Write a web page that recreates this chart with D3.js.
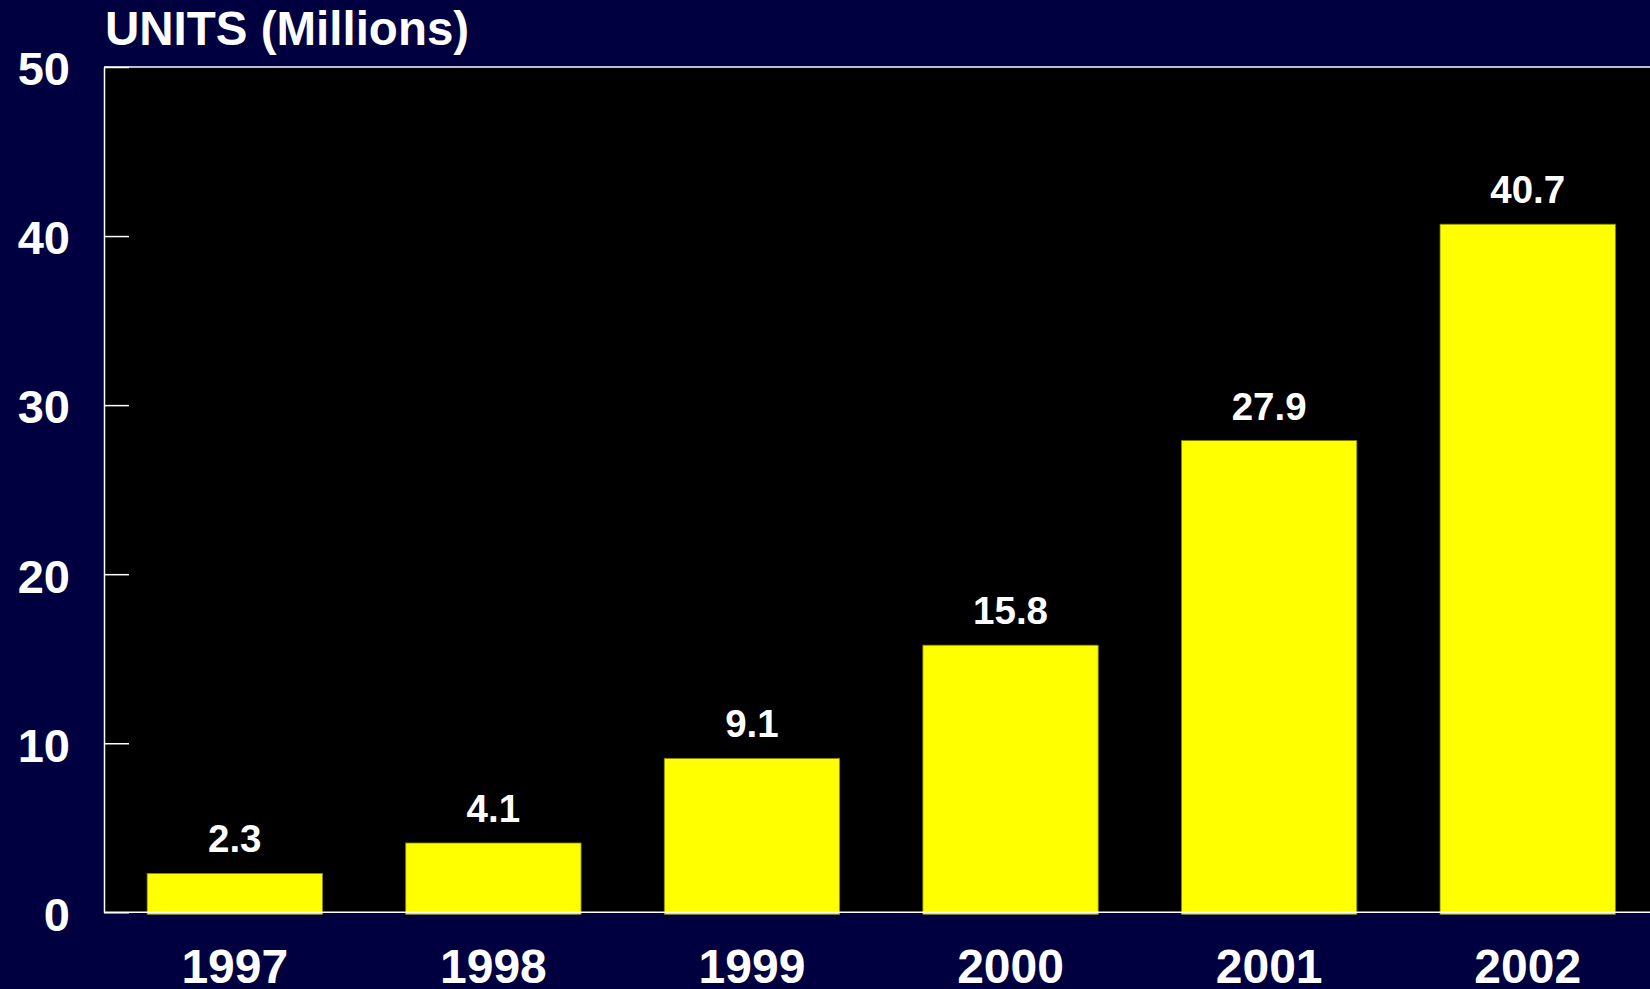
<!DOCTYPE html>
<html>
<head>
<meta charset="utf-8">
<script src="https://cdn.jsdelivr.net/npm/d3@7"></script>
<style>
  html, body { margin: 0; padding: 0; background: #000040; overflow: hidden; }
  svg { display: block; }
  text { font-family: "Liberation Sans", Arial, Helvetica, sans-serif; font-weight: bold; fill: #ffffff; }
</style>
</head>
<body>
<script>
// Annual units shipped, in millions
const years = ["1997", "1998", "1999", "2000", "2001", "2002"];
const units = [2.3, 4.1, 9.1, 15.8, 27.9, 40.7];
const yTicks = [0, 10, 20, 30, 40, 50];
const valueLabels = ["2.3", "4.1", "9.1", "15.8", "27.9", "40.7"];
const yTitle = "UNITS (Millions)";

const W = 1650, H = 989;
const plot = { left: 104, top: 67, right: 1657, bottom: 912.3 };

const svg = d3.select("body").append("svg")
  .attr("width", W).attr("height", H);

svg.append("rect").attr("width", W).attr("height", H).attr("fill", "#000040");

const x = d3.scaleBand()
  .domain(years)
  .range([plot.left + 1.5, plot.right])
  .paddingInner(0.322)
  .paddingOuter(0.161);

const y = d3.scaleLinear()
  .domain([0, 50])
  .range([plot.bottom, plot.top]);

// black plotting area
svg.append("rect")
  .attr("x", plot.left).attr("y", plot.top)
  .attr("width", W - plot.left + 10).attr("height", plot.bottom - plot.top)
  .attr("fill", "#000000");

// bars
svg.append("g").selectAll("rect")
  .data(units)
  .join("rect")
  .attr("x", (d, i) => x(years[i]))
  .attr("y", d => y(d))
  .attr("width", x.bandwidth())
  .attr("height", d => y(0) - y(d) + 2)
  .attr("fill", "#ffff00")
  .attr("stroke", "#8a8a00")
  .attr("stroke-width", 0.8);

// value labels above bars
svg.append("g").selectAll("text")
  .data(units)
  .join("text")
  .attr("x", (d, i) => x(years[i]) + x.bandwidth() / 2)
  .attr("y", d => y(d) - 21)
  .attr("text-anchor", "middle")
  .style("font-size", "38.5px")
  .text((d, i) => valueLabels[i]);

// frame: top border and baseline
svg.append("line")
  .attr("x1", plot.left).attr("x2", W)
  .attr("y1", plot.top).attr("y2", plot.top)
  .attr("stroke", "#ffffff").attr("stroke-width", 1.5);
svg.append("line")
  .attr("x1", plot.left).attr("x2", W)
  .attr("y1", plot.bottom).attr("y2", plot.bottom)
  .attr("stroke", "#ffffff").attr("stroke-width", 1.5);

// y axis with inward ticks
const yAxis = d3.axisLeft(y)
  .tickValues(yTicks)
  .tickSizeInner(-25)
  .tickSizeOuter(0)
  .tickPadding(34)
  .tickFormat(d3.format("d"));

const gy = svg.append("g")
  .attr("transform", `translate(${plot.left},0)`)
  .call(yAxis);
gy.select(".domain").attr("stroke", "#ffffff").attr("stroke-width", 1.5);
gy.selectAll(".tick line").attr("stroke", "#ffffff").attr("stroke-width", 1.5);
gy.selectAll(".tick text")
  .attr("dy", "0.38em")
  .attr("fill", "#ffffff")
  .style("font-size", "47px")
  .style("font-family", "'Liberation Sans', Arial, sans-serif")
  .style("font-weight", "bold");

// x axis: year labels
svg.append("g").selectAll("text")
  .data(years)
  .join("text")
  .attr("x", d => x(d) + x.bandwidth() / 2)
  .attr("y", 983.3)
  .attr("text-anchor", "middle")
  .style("font-size", "48px")
  .text(d => d);

// axis title
svg.append("text")
  .attr("x", 105)
  .attr("y", 45)
  .style("font-size", "47.5px")
  .text(yTitle);
</script>
</body>
</html>
